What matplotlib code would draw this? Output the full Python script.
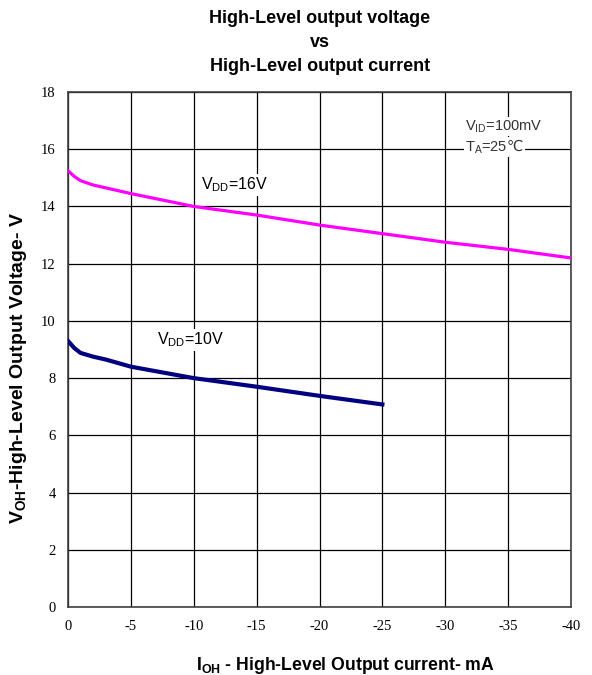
import matplotlib
matplotlib.use("Agg")
import matplotlib.pyplot as plt

# data
ioh_16 = [0, -0.5, -1, -2, -3, -5, -10, -15, -20, -25, -30, -35, -40]
voh_16 = [15.25, 15.05, 14.9, 14.75, 14.65, 14.45, 14.0, 13.7, 13.35, 13.05, 12.75, 12.5, 12.2]

ioh_10 = [0, -0.5, -1, -2, -3, -5, -10, -15, -20, -25]
voh_10 = [9.3, 9.05, 8.88, 8.75, 8.65, 8.4, 8.0, 7.7, 7.38, 7.08]

xticks = [0, -5, -10, -15, -20, -25, -30, -35, -40]
yticks = [0, 2, 4, 6, 8, 10, 12, 14, 16, 18]

plt.rcParams['font.family'] = ['Liberation Sans', 'DejaVu Sans']
plt.rcParams['mathtext.fontset'] = 'custom'
plt.rcParams['mathtext.rm'] = 'Liberation Sans'
plt.rcParams['mathtext.bf'] = 'Liberation Sans:bold'

fig = plt.figure(figsize=(5.92, 6.75), dpi=100)
ax = fig.add_axes([0.1149, 0.1007, 0.8496, 0.763])

ax.plot(ioh_16, voh_16, color='#ff00ff', lw=2.3, zorder=3)
ax.plot(ioh_10, voh_10, color='#000080', lw=3, zorder=3)

ax.set_xlim(0, -40)
ax.set_ylim(0, 18)
ax.set_xticks(xticks)
ax.set_yticks(yticks)
ax.set_xticklabels([str(v) for v in xticks], family='Liberation Serif', fontsize=10.5)
ax.set_yticklabels([str(v) for v in yticks], family='Liberation Serif', fontsize=10.5)
ax.tick_params(length=0, pad=9)
ax.grid(True, color='black', lw=0.9)
ax.set_axisbelow(True)
for s in ax.spines.values():
    s.set_color('#404040')
    s.set_linewidth(1.2)

box = dict(facecolor='white', edgecolor='none', pad=1)
ax.text(-10.6, 14.75, r'$\mathrm{V_{DD}}$=16V', fontsize=11.5, va='center', bbox=box, zorder=2.5)
ax.text(-7.05, 9.33, r'$\mathrm{V_{DD}}$=10V', fontsize=11.5, va='center', bbox=box, zorder=2.5)

# test conditions box
grey = '#333333'
ax.text(-31.6, 16.8, r'$\mathrm{V_{ID}}$=100mV', fontsize=10.5, va='center',
        bbox=dict(facecolor='white', edgecolor='none', pad=1), zorder=2.7, color=grey)
t2 = ax.text(-31.6, 15.92, r'$\mathrm{T_{A}}$=25', fontsize=10.5, va='baseline',
             bbox=dict(facecolor='white', edgecolor='none', pad=1), zorder=2.5, color=grey)
ax.annotate('℃', xy=(1, 0.5), xycoords=t2, xytext=(-0.5, 1), textcoords='offset points',
            va='center', ha='left', fontsize=10.5, family='DejaVu Sans', color=grey,
            zorder=2.6, bbox=dict(facecolor='white', edgecolor='none', pad=1))

fig.text(0.54, 0.985, 'High-Level output voltage\nvs\nHigh-Level output current',
         ha='center', va='top', fontsize=13, fontweight='bold', linespacing=1.55)
ax.set_xlabel(r'$\mathbf{I_{OH}}$ - High-Level Output current- mA', fontsize=12.7,
              fontweight='bold', va='center')
ax.xaxis.set_label_coords(0.551, -0.113)
ax.set_ylabel(r'$\mathbf{V_{OH}}$-High-Level Output Voltage- V', fontsize=14,
              fontweight='bold', va='center')
ax.yaxis.set_label_coords(-0.099, 0.464)

fig.savefig('out.png', dpi=100)
